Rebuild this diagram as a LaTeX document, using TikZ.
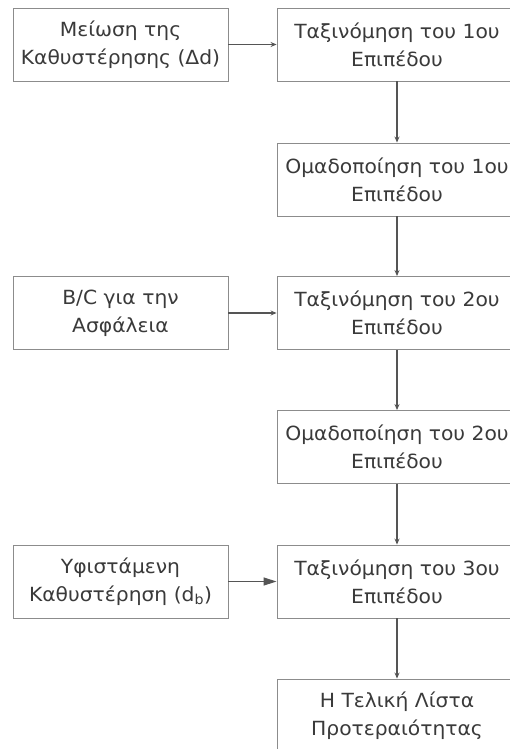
\documentclass[tikz,border=0pt]{standalone}
\usepackage{fontspec}
\setmainfont[FakeStretch=1.04]{DejaVu Sans}
\usetikzlibrary{arrows.meta}
\definecolor{txt}{HTML}{3A3A3A}
\definecolor{bord}{HTML}{8C8C8C}
\definecolor{conn}{HTML}{555555}
\tikzset{
  box/.style={draw=bord, line width=0.9pt, rectangle, minimum height=73pt, inner sep=0pt,
    align=center, text=txt, font=\fontsize{19.5}{28}\selectfont},
  leftbox/.style={box, minimum width=215pt},
  rightbox/.style={box, minimum width=240pt},
  smallarrow/.style={draw=conn, line width=1.1pt, -{Stealth[length=6pt,width=5pt]}},
  bigarrow/.style={draw=conn, line width=1.1pt, -{Triangle[length=13pt,width=8pt]}}
}
\begin{document}
\begin{tikzpicture}[x=1pt,y=-1pt]
\useasboundingbox (0,0) rectangle (510,749);
\clip (0,0) rectangle (510,749);
\fill[white] (0,0) rectangle (510,749);
\node[leftbox] (l1) at (120.5,44.5) {Μείωση της\\Καθυστέρησης (Δd)};
\node[leftbox] (l2) at (120.5,313) {B/C για την\\Ασφάλεια};
\node[leftbox] (l3) at (120.5,581.5) {Υφιστάμενη\\Καθυστέρηση (d\textsubscript{b})};
\node[rightbox] (r1) at (397,44.5) {Ταξινόμηση του 1ου\\Επιπέδου};
\node[rightbox] (r2) at (397,179.5) {Ομαδοποίηση του 1ου\\Επιπέδου};
\node[rightbox] (r3) at (397,313) {Ταξινόμηση του 2ου\\Επιπέδου};
\node[rightbox] (r4) at (397,447) {Ομαδοποίηση του 2ου\\Επιπέδου};
\node[rightbox] (r5) at (397,581.5) {Ταξινόμηση του 3ου\\Επιπέδου};
\node[rightbox] (r6) at (397,715.5) {Η Τελική Λίστα\\Προτεραιότητας};
\draw[smallarrow] (l1) -- (r1);
\draw[smallarrow] (l2) -- (r3);
\draw[bigarrow] (l3) -- (r5);
\draw[smallarrow] (r1) -- (r2);
\draw[smallarrow] (r2) -- (r3);
\draw[smallarrow] (r3) -- (r4);
\draw[smallarrow] (r4) -- (r5);
\draw[smallarrow] (r5) -- (r6);
\end{tikzpicture}
\end{document}
